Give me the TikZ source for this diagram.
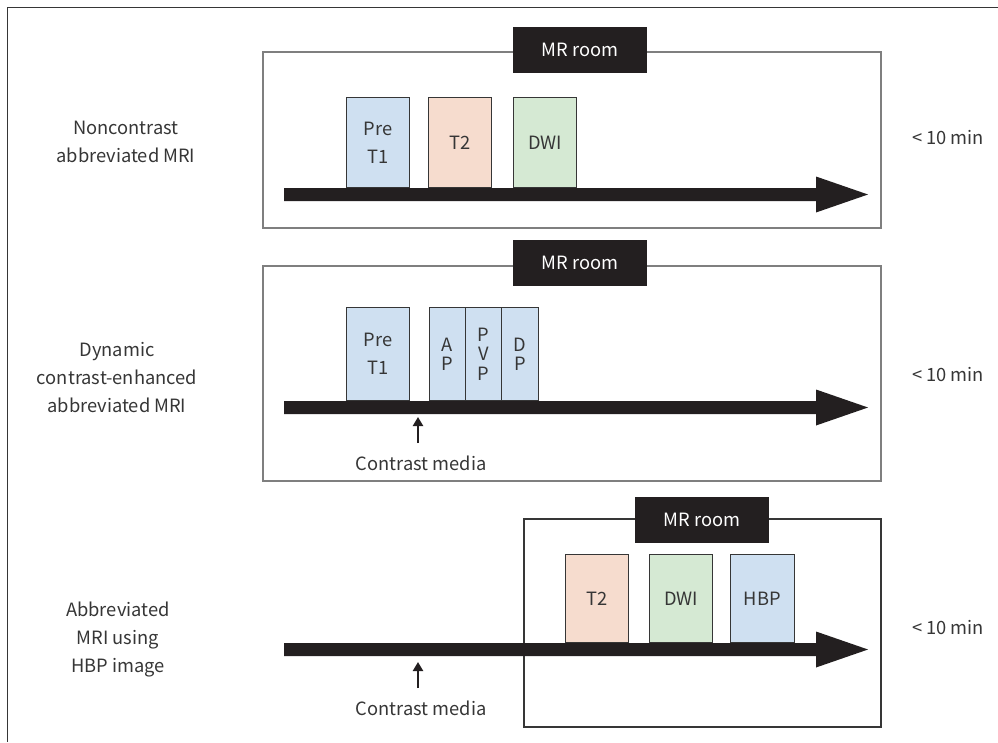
\documentclass[tikz,border=0pt]{standalone}
\usepackage{fontspec}
\setmainfont{Noto Sans CJK KR}
\usetikzlibrary{arrows.meta}
\definecolor{ink}{HTML}{363636}
\definecolor{blk}{HTML}{231F20}
\definecolor{bluef}{HTML}{CFE0F1}
\definecolor{peach}{HTML}{F6DCCE}
\definecolor{greenf}{HTML}{D5E9D3}
\definecolor{framegray}{HTML}{7F7F7F}
\newcommand\lbl{\fontsize{18.3}{28}\selectfont}
\newcommand\tightlbl{\fontsize{18.3}{19.5}\selectfont}
\newcommand\timeline[1]{%
  \fill[blk] (284,{#1-6.5}) -- (816,{#1-6.5}) -- (816,{#1-18}) -- (868,{#1}) --
    (816,{#1+18}) -- (816,{#1+6.5}) -- (284,{#1+6.5}) -- cycle;}
\tikzset{
  frameline/.style={draw=ink, line width=1.2pt},
  panel/.style={draw=framegray, line width=1.2pt},
  darkpanel/.style={draw=ink, line width=1.1pt},
  room/.style={fill=blk, text=white, minimum width=134pt, minimum height=46pt, inner sep=0pt, font=\lbl},
  seqbox/.style={draw=ink, line width=0.9pt, inner sep=0pt, align=center, text=ink,
    minimum width=63pt, anchor=south west, font=\lbl},
  narrowbox/.style={seqbox, minimum width=36pt, fill=bluef, font=\tightlbl},
  sidelabel/.style={align=center, text=ink, font=\lbl, inner sep=0pt},
  timelabel/.style={text=ink, font=\lbl, inner sep=0pt},
  cmlabel/.style={text=ink, font=\lbl, anchor=base, inner sep=0pt},
  cmarrow/.style={draw=blk, line width=2.6pt, -{Triangle[length=9pt,width=10pt]}},
}
\begin{document}
\begin{tikzpicture}[x=1pt,y=-1pt]
\useasboundingbox (0,0) rectangle (998,742);
\fill[white] (0,0) rectangle (998,742);
% outer frame
\draw[frameline] (998,7.5) -- (7.5,7.5) -- (7.5,742);

% ---------- panel 1 ----------
\draw[panel] (263,52) rectangle (881,228);
\node[room] (room1) at (580,50) {MR room};
\timeline{194.5}
\node[seqbox, fill=bluef, minimum height=90pt] (pre1) at (346,188) {Pre\\T1};
\node[seqbox, fill=peach, minimum height=90pt] (t21) at (428,188) {T2};
\node[seqbox, fill=greenf, minimum height=90pt] (dwi1) at (513,188) {DWI};
\node[sidelabel] (lab1) at (126,142) {Noncontrast\\abbreviated MRI};
\node[timelabel] (time1) at (948,138) {< 10 min};

% ---------- panel 2 ----------
\draw[panel] (263,266) rectangle (881,481);
\node[room] (room2) at (580,263) {MR room};
\timeline{407.5}
\node[seqbox, fill=bluef, minimum height=93pt] (pre2) at (346,401) {Pre\\T1};
\node[narrowbox, minimum height=93pt] (ap2) at (429,401) {A\\P};
\node[narrowbox, minimum height=93pt] (pvp2) at (465,401) {P\\V\\P};
\node[narrowbox, minimum height=93pt, minimum width=37pt] (dp2) at (501,401) {D\\P};
\coordinate (tip2) at (418,417);
\coordinate (tail2) at (418,443);
\draw[cmarrow] (tail2) -- (tip2);
\node[cmlabel] (cm2) at (421,470) {Contrast media};
\node[sidelabel] (lab2) at (117,378) {Dynamic\\contrast-enhanced\\abbreviated MRI};
\node[timelabel] (time2) at (948,375) {< 10 min};

% ---------- panel 3 ----------
\draw[darkpanel] (524,519) rectangle (881,727);
\node[room] (room3) at (702,520) {MR room};
\timeline{649.5}
\node[seqbox, fill=peach, minimum height=88pt] (t23) at (565,643) {T2};
\node[seqbox, fill=greenf, minimum height=88pt] (dwi3) at (649,643) {DWI};
\node[seqbox, fill=bluef, minimum height=88pt, minimum width=64pt] (hbp3) at (730,643) {HBP};
\coordinate (tip3) at (418,662);
\coordinate (tail3) at (418,688);
\draw[cmarrow] (tail3) -- (tip3);
\node[cmlabel] (cm3) at (421,715) {Contrast media};
\node[sidelabel] (lab3) at (118,639) {Abbreviated\\MRI using\\HBP image};
\node[timelabel] (time3) at (948,628) {< 10 min};
\end{tikzpicture}
\end{document}
